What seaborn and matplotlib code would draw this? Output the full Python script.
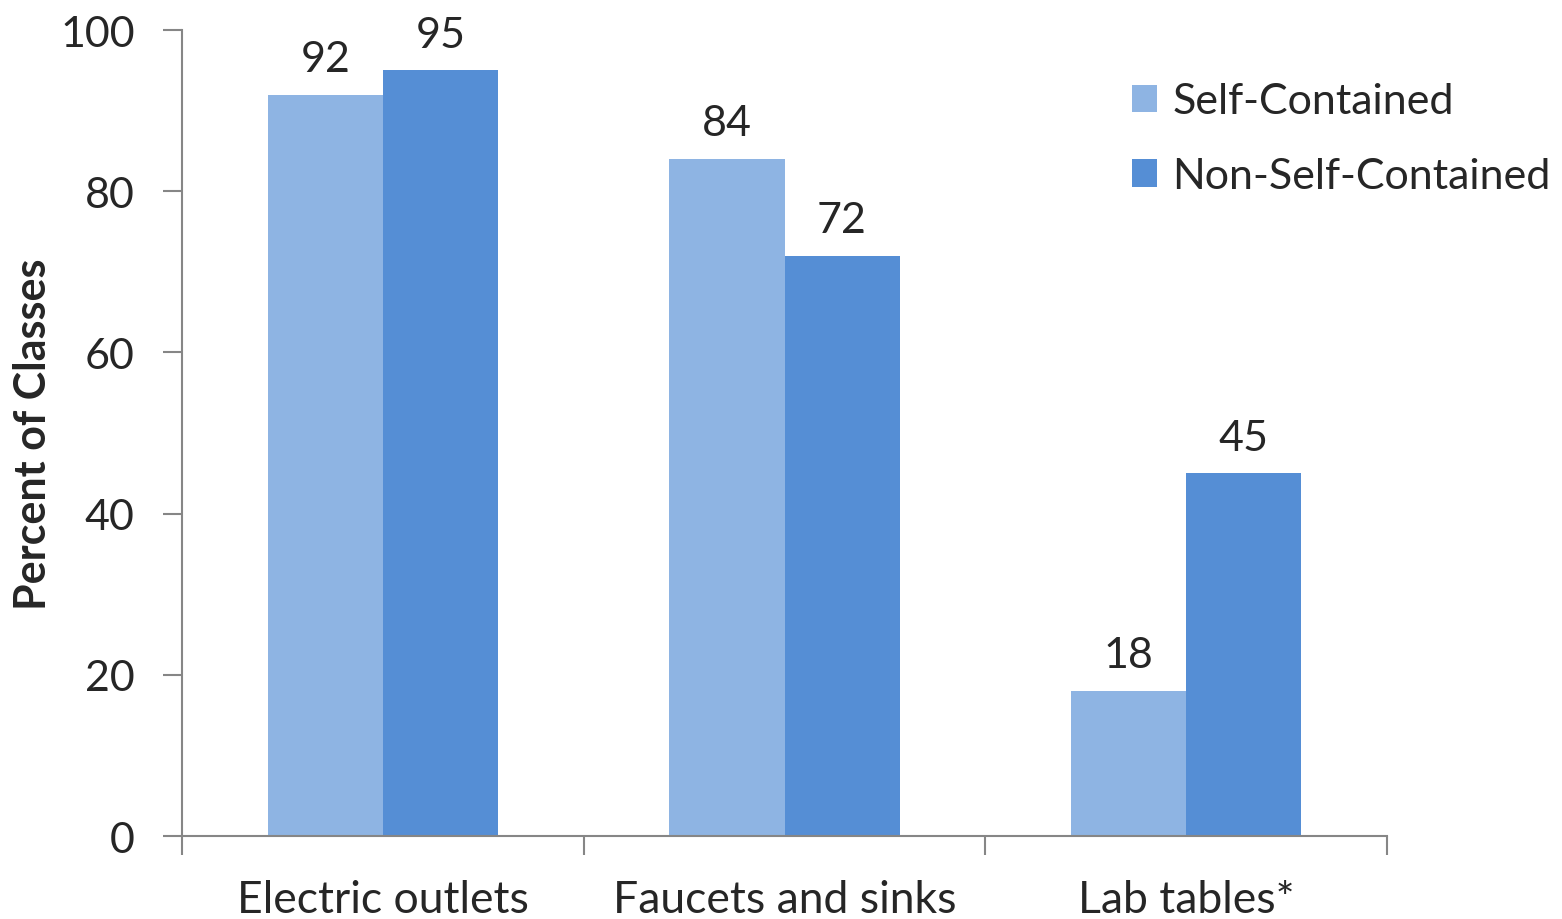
import matplotlib
matplotlib.use("Agg")
import matplotlib.pyplot as plt
import seaborn as sns
import pandas as pd

categories = ["Electric outlets", "Faucets and sinks", "Lab tables*"]
groups = ["Self-Contained", "Non-Self-Contained"]
self_contained = [92, 84, 18]
non_self_contained = [95, 72, 45]
y_ticks = [0, 20, 40, 60, 80, 100]

df = pd.DataFrame({
    "Feature": categories * 2,
    "Group": [groups[0]] * 3 + [groups[1]] * 3,
    "Percent": self_contained + non_self_contained,
})

sns.set_theme(style="white")
plt.rcParams["font.family"] = ["Lato", "DejaVu Sans"]

fig = plt.figure(figsize=(15.62, 9.2), dpi=100)
ax = fig.add_axes([0.1165, 0.0902, 0.7715, 0.876])

palette = {groups[0]: "#8EB4E3", groups[1]: "#558ED5"}
sns.barplot(data=df, x="Feature", y="Percent", hue="Group", order=categories,
            hue_order=groups, palette=palette, width=0.573, saturation=1,
            ax=ax, errorbar=None, linewidth=0)

for cont in ax.containers:
    ax.bar_label(cont, fmt="%d", padding=12, fontsize=31)

ax.set_ylim(0, 100)
ax.set_xlim(-0.5, 2.5)
ax.set_yticks(y_ticks)
ax.tick_params(axis="y", labelsize=31, length=14, width=1.5, color="#868686",
               direction="out", left=True, pad=20)
ax.set_xticks(range(len(categories)))
ax.set_xticklabels(categories)
ax.tick_params(axis="x", which="major", labelsize=32, length=0, pad=31)
ax.set_xticks([-0.5, 0.5, 1.5, 2.5], minor=True)
ax.tick_params(axis="x", which="minor", length=14, width=1.5, color="#868686",
               direction="out", bottom=True)

for side in ["top", "right"]:
    ax.spines[side].set_visible(False)
for side in ["left", "bottom"]:
    ax.spines[side].set_color("#868686")
    ax.spines[side].set_linewidth(1.5)

ax.set_xlabel("")
ax.set_ylabel("Percent of Classes", fontsize=31, fontweight="bold", labelpad=5)

leg = ax.legend(loc="upper left", bbox_to_anchor=(0.788, 0.935), frameon=False,
                fontsize=31, handlelength=0.6, handleheight=0.6,
                handletextpad=0.35, labelspacing=0.85, borderaxespad=0,
                borderpad=0)

fig.savefig("out.png", dpi=100)
